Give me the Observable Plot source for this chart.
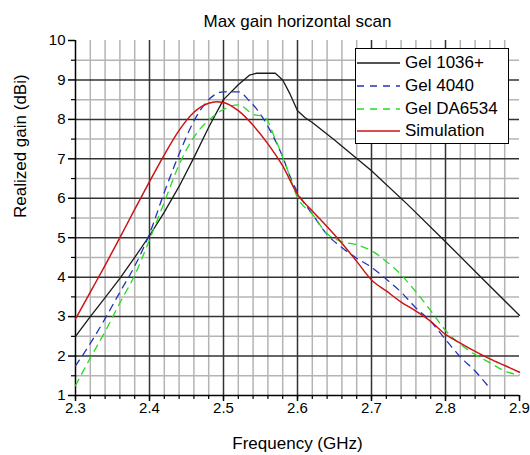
<!DOCTYPE html>
<html>
<head>
<meta charset="utf-8">
<script src="https://cdn.jsdelivr.net/npm/d3@7"></script>
<script src="https://cdn.jsdelivr.net/npm/@observablehq/plot@0.6"></script>
<style>
  body { margin: 0; background: #fff; font-family: "Liberation Sans", Arial, sans-serif; }
  #wrap { position: relative; width: 530px; height: 455px; }
  #legend { position: absolute; left: 355px; top: 48px; width: 152px; height: 94px;
            border: 1.5px solid #000; background: #fff; }
  .row { position: absolute; left: 0; height: 22px; display: flex; align-items: center; }
  .row span { font-size: 17px; color: #000; margin-left: 4px; white-space: nowrap; }
</style>
</head>
<body>
<div id="wrap"><div id="legend"></div></div>
<script>
// ---- data ----
const chartTitle = "Max gain horizontal scan";
const xLabel = "Frequency (GHz)";
const yLabel = "Realized gain (dBi)";

const seriesNames  = ["Gel 1036+", "Gel 4040", "Gel DA6534", "Simulation"];
const seriesColors = ["#1a1a1a", "#2233bb", "#22dd22", "#cc1515"];
const seriesDashes = [null, "7,6", "7,6", null];

const gel1036Freq = [2.30, 2.32, 2.34, 2.36, 2.38, 2.40, 2.42, 2.44, 2.46, 2.48, 2.50, 2.52, 2.535, 2.545, 2.57, 2.58, 2.59, 2.60, 2.61, 2.62, 2.65, 2.70, 2.75, 2.80, 2.85, 2.90];
const gel1036Gain = [2.50, 3.00, 3.48, 3.97, 4.50, 5.05, 5.65, 6.30, 7.03, 7.80, 8.50, 8.88, 9.12, 9.17, 9.17, 9.00, 8.64, 8.22, 8.05, 7.92, 7.48, 6.70, 5.82, 4.90, 3.96, 3.03];

const gel4040Freq = [2.30, 2.32, 2.34, 2.36, 2.38, 2.40, 2.42, 2.44, 2.46, 2.48, 2.50, 2.52, 2.535, 2.55, 2.565, 2.58, 2.59, 2.60, 2.62, 2.64, 2.66, 2.68, 2.70, 2.72, 2.74, 2.76, 2.78, 2.80, 2.82, 2.84, 2.86];
const gel4040Gain = [1.75, 2.32, 2.95, 3.62, 4.28, 5.10, 6.15, 7.12, 7.96, 8.50, 8.70, 8.70, 8.47, 8.13, 7.65, 7.05, 6.55, 6.15, 5.60, 5.08, 4.75, 4.48, 4.25, 3.95, 3.62, 3.22, 2.88, 2.42, 1.98, 1.62, 1.18];

const gelDA6534Freq = [2.30, 2.32, 2.34, 2.36, 2.38, 2.40, 2.42, 2.44, 2.46, 2.48, 2.50, 2.52, 2.54, 2.555, 2.57, 2.585, 2.60, 2.62, 2.64, 2.66, 2.68, 2.70, 2.72, 2.74, 2.76, 2.78, 2.80, 2.82, 2.84, 2.86, 2.88, 2.90];
const gelDA6534Gain = [1.25, 1.95, 2.62, 3.35, 4.05, 4.95, 5.90, 6.85, 7.55, 7.98, 8.25, 8.37, 8.13, 8.07, 7.50, 6.80, 6.02, 5.60, 5.10, 4.90, 4.82, 4.67, 4.40, 4.06, 3.63, 3.15, 2.65, 2.30, 2.04, 1.83, 1.62, 1.52];

const simFreq = [2.30, 2.32, 2.34, 2.36, 2.38, 2.40, 2.42, 2.44, 2.46, 2.48, 2.49, 2.50, 2.52, 2.54, 2.56, 2.58, 2.60, 2.62, 2.64, 2.66, 2.68, 2.70, 2.72, 2.74, 2.76, 2.78, 2.80, 2.82, 2.84, 2.86, 2.88, 2.90];
const simGain = [2.94, 3.62, 4.30, 5.00, 5.72, 6.42, 7.10, 7.72, 8.18, 8.41, 8.45, 8.43, 8.22, 7.85, 7.38, 6.82, 6.10, 5.68, 5.28, 4.86, 4.40, 3.93, 3.65, 3.37, 3.14, 2.88, 2.55, 2.33, 2.12, 1.93, 1.76, 1.59];

const xMajorTicks = [2.3, 2.4, 2.5, 2.6, 2.7, 2.8, 2.9];
const xMinorTicks = d3.range(0, 31).map(i => +(2.3 + i * 0.02).toFixed(2));
const yMajorTicks = [1, 2, 3, 4, 5, 6, 7, 8, 9, 10];
const yMinorTicks = [1.5, 2.5, 3.5, 4.5, 5.5, 6.5, 7.5, 8.5, 9.5];

// ---- build ----
const seriesFreq = [gel1036Freq, gel4040Freq, gelDA6534Freq, simFreq];
const seriesGain = [gel1036Gain, gel4040Gain, gelDA6534Gain, simGain];
const seriesData = seriesNames.map((name, k) =>
  seriesFreq[k].map((f, i) => ({series: name, f, g: seriesGain[k][i]})));

const gridXMajor = xMajorTicks.slice(1, -1);
const gridXMinor = xMinorTicks.filter(v => !xMajorTicks.some(m => Math.abs(m - v) < 1e-9) && v < 2.9);
const gridYMajor = yMajorTicks.slice(1, -1);

const lineMarks = seriesData.map((d, k) => Plot.line(d, {
  x: "f", y: "g",
  stroke: seriesColors[k],
  strokeWidth: k === 3 ? 1.5 : 1.3,
  strokeDasharray: seriesDashes[k] || undefined,
  curve: k === 0 ? "linear" : "monotone-x"
}));

const chart = Plot.plot({
  width: 530,
  height: 455,
  marginLeft: 75,
  marginRight: 11,
  marginTop: 40,
  marginBottom: 60,
  style: {fontFamily: "'Liberation Sans', Arial, sans-serif", fontSize: "15px", color: "#000", background: "#fff"},
  x: {domain: [2.3, 2.9], label: null},
  y: {domain: [1, 10], label: null},
  marks: [
    Plot.ruleX(gridXMinor, {stroke: "#b4b4b4", strokeWidth: 1.5}),
    Plot.ruleY(yMinorTicks, {stroke: "#b4b4b4", strokeWidth: 1.5}),
    Plot.ruleX(gridXMajor, {stroke: "#333", strokeWidth: 1.5}),
    Plot.ruleY(gridYMajor, {stroke: "#333", strokeWidth: 1.5}),
    Plot.axisX(xMinorTicks, {tickSize: 4, tickFormat: () => "", stroke: "#000", strokeWidth: 1.2, label: null}),
    Plot.axisX(xMajorTicks, {tickSize: 6, tickPadding: 1, tickFormat: d3.format(".1f"), stroke: "#000", strokeWidth: 1.5, fontSize: 15, label: null}),
    Plot.axisY(yMinorTicks, {tickSize: 4, tickFormat: () => "", stroke: "#000", strokeWidth: 1.2, label: null}),
    Plot.axisY(yMajorTicks, {tickSize: 7, tickPadding: 3, tickFormat: d3.format("d"), stroke: "#000", strokeWidth: 1.5, fontSize: 15, label: null}),
    Plot.ruleX([2.3], {stroke: "#000", strokeWidth: 1.5}),
    Plot.ruleY([1], {stroke: "#000", strokeWidth: 1.5}),
    ...lineMarks,
    Plot.text([chartTitle], {frameAnchor: "top", dy: -14, lineAnchor: "bottom", fontSize: 17, fill: "#000"}),
    Plot.text([xLabel], {frameAnchor: "bottom", dy: 53, lineAnchor: "bottom", fontSize: 17, fill: "#000"}),
    Plot.text([yLabel], {frameAnchor: "left", dx: -55, rotate: -90, fontSize: 17, fill: "#000"})
  ]
});

const wrap = document.getElementById("wrap");
wrap.insertBefore(chart, wrap.firstChild);

// legend
const legend = document.getElementById("legend");
const rowCenters = [14, 36.5, 59.5, 81.5];
seriesNames.forEach((name, k) => {
  const row = document.createElement("div");
  row.className = "row";
  row.style.top = (rowCenters[k] - 11) + "px";
  const ns = "http://www.w3.org/2000/svg";
  const svg = document.createElementNS(ns, "svg");
  svg.setAttribute("width", 45);
  svg.setAttribute("height", 22);
  const ln = document.createElementNS(ns, "line");
  ln.setAttribute("x1", 1); ln.setAttribute("x2", 44);
  ln.setAttribute("y1", 11); ln.setAttribute("y2", 11);
  ln.setAttribute("stroke", seriesColors[k]);
  ln.setAttribute("stroke-width", 1.5);
  if (seriesDashes[k]) ln.setAttribute("stroke-dasharray", seriesDashes[k]);
  svg.appendChild(ln);
  const span = document.createElement("span");
  span.textContent = name;
  row.appendChild(svg);
  row.appendChild(span);
  legend.appendChild(row);
});
</script>
</body>
</html>
